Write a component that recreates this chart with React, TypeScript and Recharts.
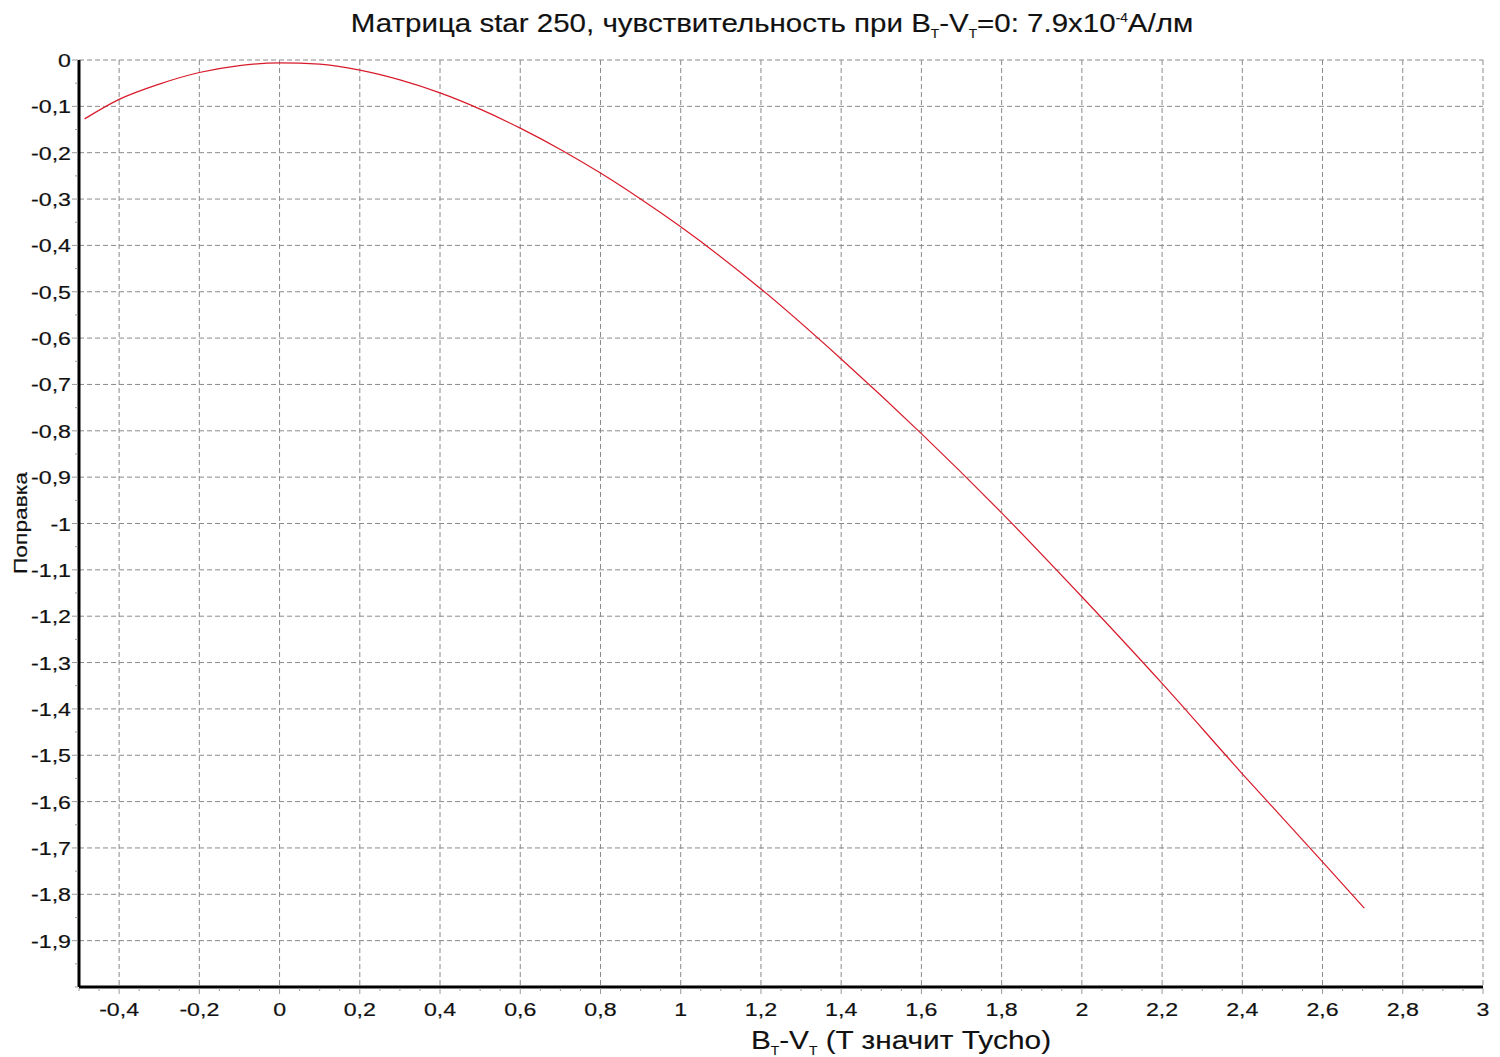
import React from "react"
import { LineChart, Line, XAxis, YAxis, CartesianGrid } from "recharts"

// B_T - V_T colour index and the correction
const bv = [-0.486, -0.4, -0.3, -0.2, -0.1, 0, 0.1, 0.2, 0.3, 0.4, 0.5, 0.6, 0.7, 0.8, 0.9, 1.0, 1.2, 1.4, 1.6, 1.8, 2.0, 2.2, 2.4, 2.6, 2.704]
const correction = [-0.127, -0.085, -0.052, -0.027, -0.012, -0.006, -0.009, -0.022, -0.043, -0.071, -0.106, -0.147, -0.193, -0.244, -0.3, -0.36, -0.494, -0.645, -0.806, -0.977, -1.158, -1.345, -1.54, -1.73, -1.83]

const xMajor = [-0.4, -0.2, 0, 0.2, 0.4, 0.6, 0.8, 1, 1.2, 1.4, 1.6, 1.8, 2, 2.2, 2.4, 2.6, 2.8, 3]
const yMajor = [0, -0.1, -0.2, -0.3, -0.4, -0.5, -0.6, -0.7, -0.8, -0.9, -1, -1.1, -1.2, -1.3, -1.4, -1.5, -1.6, -1.7, -1.8, -1.9]

const data = bv.map((x, i) => ({ x, y: correction[i] }))

const r2 = (v: number) => Math.round(v * 100) / 100
const xMinor: number[] = []
for (let v = -0.5; v <= 3.0001; v += 0.05) xMinor.push(r2(v))
const yMinor: number[] = []
for (let v = -2; v <= 0.0001; v += 0.05) yMinor.push(r2(v))

const isMajor = (list: number[], v: number) => list.some((m) => Math.abs(m - v) < 1e-6)
const fmt = (v: number) => String(r2(v)).replace(".", ",")

const FONT = "'Liberation Sans', Arial, sans-serif"
const STRETCH = 1.22

function XTick({ x, y, payload }: any) {
  const major = isMajor(xMajor, payload.value)
  return (
    <g>
      <line x1={x} x2={x} y1={y + 1} y2={y + (major ? 7 : 4)} stroke="#9a9a9a" />
      {major && (
        <text transform={`translate(${x} ${y + 29}) scale(${STRETCH} 1)`} textAnchor="middle" fontSize={19} fontFamily={FONT} fill="#111" stroke="#111" strokeWidth={0.2}>
          {fmt(payload.value)}
        </text>
      )}
    </g>
  )
}

function YTick({ x, y, payload }: any) {
  const major = isMajor(yMajor, payload.value)
  return (
    <g>
      <line x1={x - 1} x2={x - (major ? 7 : 4)} y1={y} y2={y} stroke="#9a9a9a" />
      {major && (
        <text transform={`translate(${x - 8} ${y + 7}) scale(${STRETCH} 1)`} textAnchor="end" fontSize={19} fontFamily={FONT} fill="#111" stroke="#111" strokeWidth={0.2}>
          {fmt(payload.value)}
        </text>
      )}
    </g>
  )
}

const sub = { fontSize: 12, verticalAlign: "sub" } as const
const sup = { fontSize: 12, verticalAlign: "super" } as const
const bolden = { WebkitTextStroke: "0.15px #111" } as const

export default function App() {
  return (
    <div style={{ position: "absolute", left: 0, top: 0, width: 1500, height: 1057, background: "#fff", fontFamily: FONT }}>
      <LineChart width={1500} height={1057} data={data} margin={{ top: 60, right: 17, bottom: 0, left: 0 }}>
        <CartesianGrid
          stroke="#8a8a8a"
          strokeDasharray="5 3"
          horizontalValues={yMajor}
          verticalValues={xMajor}
        />
        <XAxis
          type="number"
          dataKey="x"
          domain={[-0.5, 3]}
          ticks={xMinor}
          interval={0}
          height={70}
          tickSize={0}
          tickMargin={0}
          tickLine={false}
          tick={<XTick />}
          axisLine={{ stroke: "#000", strokeWidth: 3 }}
          allowDataOverflow
        />
        <YAxis
          type="number"
          domain={[-2, 0]}
          ticks={yMinor}
          interval={0}
          width={79}
          tickSize={0}
          tickMargin={0}
          tickLine={false}
          tick={<YTick />}
          axisLine={{ stroke: "#000", strokeWidth: 3 }}
          allowDataOverflow
        />
        <Line type="monotone" dataKey="y" stroke="#d81a2a" strokeWidth={1.2} dot={false} isAnimationActive={false} />
      </LineChart>

      <div style={{ position: "absolute", left: 0, width: 1544, top: 8, textAlign: "center", fontSize: 26, color: "#111", transform: "scaleX(1.135)", whiteSpace: "nowrap", ...bolden }}>
        Матрица star 250, чувствительность при B<span style={sub}>T</span>-V<span style={sub}>T</span>=0: 7.9x10<span style={sup}>-4</span>A/лм
      </div>

      <div style={{ position: "absolute", left: 0, width: 1802, top: 1025, textAlign: "center", fontSize: 26, color: "#111", transform: "scaleX(1.146)", whiteSpace: "nowrap", ...bolden }}>
        B<span style={sub}>T</span>-V<span style={sub}>T</span> (T значит Tycho)
      </div>

      <div style={{ position: "absolute", left: 21, top: 523, width: 0, height: 0 }}>
        <div style={{ position: "absolute", transform: "translate(-50%, -50%) rotate(-90deg) scaleX(1.2)", fontSize: 19, color: "#111", whiteSpace: "nowrap", ...bolden }}>
          Поправка
        </div>
      </div>
    </div>
  )
}
